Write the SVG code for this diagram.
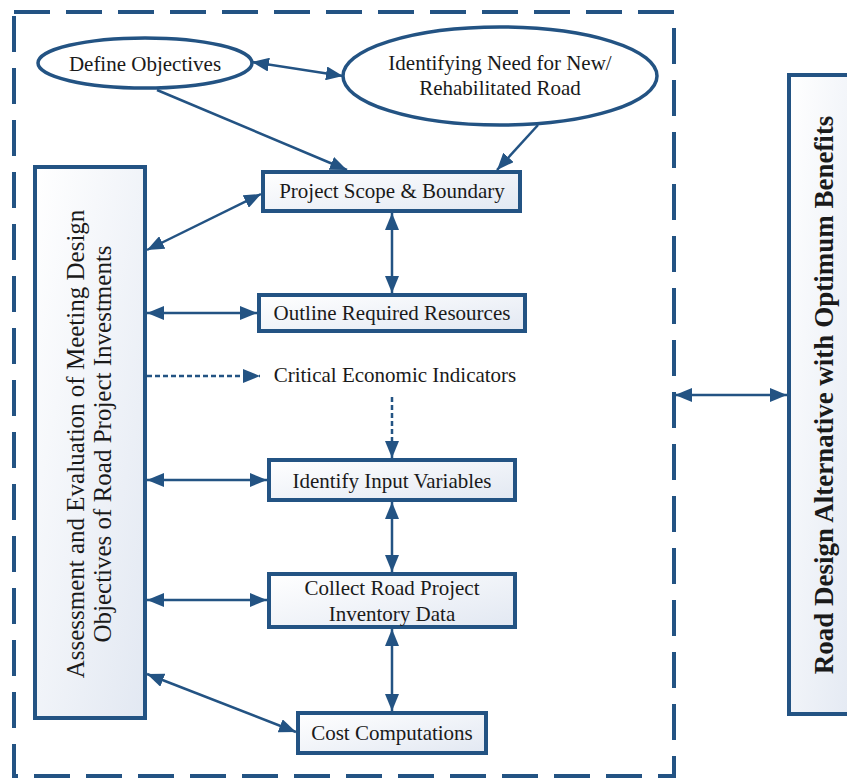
<svg xmlns="http://www.w3.org/2000/svg" width="847" height="778" viewBox="0 0 847 778">
  <defs>
    <linearGradient id="boxFill" x1="0" y1="0" x2="1" y2="1">
      <stop offset="0" stop-color="#ffffff"/>
      <stop offset="1" stop-color="#e2e8f2"/>
    </linearGradient>
    <marker id="head" markerUnits="userSpaceOnUse" markerWidth="18" markerHeight="14" refX="17" refY="7" orient="auto-start-reverse">
      <path d="M0,0 L17,7 L0,14 z" fill="#235383"/>
    </marker>
  </defs>
  <style>
    .box { fill: url(#boxFill); stroke: #235383; stroke-width: 4; }
    .oval { fill: #ffffff; stroke: #235383; stroke-width: 3.5; }
    .frame { fill: none; stroke: #235383; stroke-width: 4; stroke-dasharray: 36 16; }
    .link { fill: none; stroke: #235383; stroke-width: 2.5; }
    .one { marker-end: url(#head); }
    .two { marker-start: url(#head); marker-end: url(#head); }
    .dot { stroke-dasharray: 5 3; }
    text { font-family: "Liberation Serif", "Times New Roman", serif; font-size: 21px; fill: #1a1a1a; text-anchor: middle; }
    .big { font-size: 25px; }
    .bold { font-size: 27px; font-weight: bold; }
  </style>

  <rect class="frame" x="14" y="12" width="660" height="764"/>

  <g id="connectors">
    <line class="link two" x1="252" y1="62" x2="343" y2="76"/>
    <line class="link one" x1="157" y1="90" x2="347" y2="170"/>
    <line class="link one" x1="538" y1="125" x2="497" y2="170"/>
    <line class="link two" x1="147" y1="250" x2="261" y2="194"/>
    <line class="link two" x1="392" y1="213" x2="392" y2="293"/>
    <line class="link two" x1="147" y1="313" x2="257" y2="313"/>
    <line class="link one dot" x1="147" y1="376" x2="260" y2="376"/>
    <line class="link one dot" x1="392" y1="397" x2="392" y2="458"/>
    <line class="link two" x1="147" y1="480" x2="267" y2="480"/>
    <line class="link two" x1="392" y1="502" x2="392" y2="572"/>
    <line class="link two" x1="147" y1="600" x2="267" y2="600"/>
    <line class="link two" x1="392" y1="629" x2="392" y2="711"/>
    <line class="link two" x1="147" y1="674" x2="296" y2="732"/>
    <line class="link two" x1="675" y1="395" x2="787" y2="395"/>
  </g>

  <g id="define-objectives">
    <ellipse class="oval" cx="145" cy="63" rx="107" ry="25"/>
    <text x="145" y="71">Define Objectives</text>
  </g>

  <g id="identifying-need">
    <ellipse class="oval" cx="500" cy="76" rx="157" ry="49"/>
    <text x="500" y="70">Identifying Need for New/</text>
    <text x="500" y="95">Rehabilitated Road</text>
  </g>

  <g id="assessment">
    <rect class="box" x="35" y="167" width="110" height="551"/>
    <text class="big" transform="translate(84,444) rotate(-90)">Assessment and Evaluation of Meeting Design</text>
    <text class="big" transform="translate(111,444) rotate(-90)">Objectives of Road Project Investments</text>
  </g>

  <g id="project-scope">
    <rect class="box" x="263" y="172" width="257" height="39"/>
    <text x="392" y="198">Project Scope &amp; Boundary</text>
  </g>

  <g id="outline-resources">
    <rect class="box" x="259" y="295" width="266" height="36"/>
    <text x="392" y="320">Outline Required Resources</text>
  </g>

  <g id="critical-indicators">
    <text x="395" y="382">Critical Economic Indicators</text>
  </g>

  <g id="input-variables">
    <rect class="box" x="269" y="460" width="246" height="40"/>
    <text x="392" y="488">Identify Input Variables</text>
  </g>

  <g id="inventory-data">
    <rect class="box" x="269" y="574" width="246" height="53"/>
    <text x="392" y="595">Collect Road Project</text>
    <text x="392" y="621">Inventory Data</text>
  </g>

  <g id="cost-computations">
    <rect class="box" x="298" y="713" width="188" height="40"/>
    <text x="392" y="740">Cost Computations</text>
  </g>

  <g id="road-design-alternative">
    <rect class="box" x="789" y="75" width="72" height="639"/>
    <text class="bold" transform="translate(833,395) rotate(-90)">Road Design Alternative with Optimum Benefits</text>
  </g>
</svg>
